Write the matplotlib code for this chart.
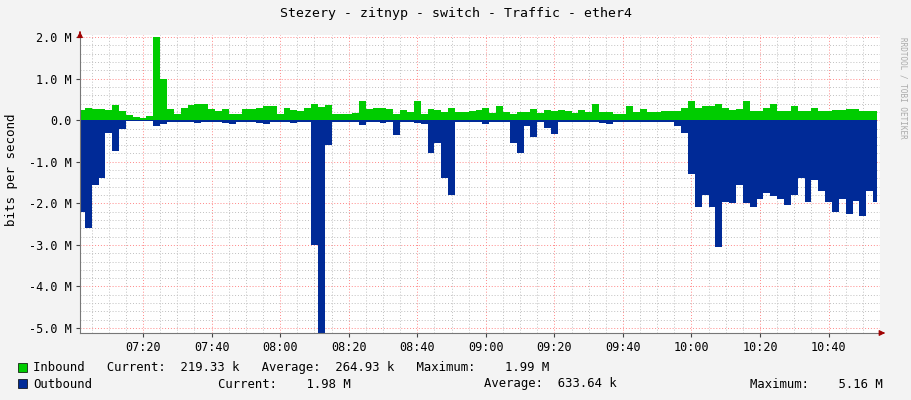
import numpy as np
import matplotlib.pyplot as plt

# minutes since 07:00, one sample every 2 minutes
minutes = list(range(2, 236, 2))

inbound = [0.24, 0.3, 0.28, 0.26, 0.25, 0.36, 0.22, 0.12, 0.08, 0.05, 0.1, 2.0, 1.0,
           0.28, 0.15, 0.3, 0.36, 0.38, 0.4, 0.27, 0.22, 0.28, 0.15, 0.15, 0.28, 0.26,
           0.3, 0.35, 0.33, 0.15, 0.3, 0.25, 0.22, 0.3, 0.4, 0.32, 0.37, 0.15, 0.15,
           0.15, 0.18, 0.45, 0.28, 0.3, 0.3, 0.28, 0.15, 0.25, 0.2, 0.45, 0.15, 0.28,
           0.25, 0.2, 0.3, 0.2, 0.2, 0.22, 0.25,
           0.3, 0.18, 0.35, 0.2, 0.15, 0.2, 0.2, 0.28, 0.18, 0.25, 0.22, 0.25, 0.22,
           0.18, 0.25, 0.2, 0.38, 0.2, 0.2, 0.15, 0.15, 0.35, 0.2, 0.28, 0.2, 0.2,
           0.22, 0.22, 0.22, 0.3, 0.47, 0.3, 0.35, 0.35, 0.38, 0.3, 0.25, 0.28, 0.47,
           0.22, 0.22, 0.3, 0.4, 0.22, 0.22, 0.35, 0.22, 0.22, 0.3, 0.22, 0.22, 0.25,
           0.25, 0.28, 0.28, 0.22, 0.22, 0.22]

outbound = [2.2, 2.6, 1.55, 1.4, 0.3, 0.75, 0.2, 0.03, 0.02, 0.02, 0.03, 0.15, 0.08,
            0.05, 0.04, 0.05, 0.05, 0.06, 0.05, 0.05, 0.05, 0.06, 0.1, 0.04, 0.04, 0.05,
            0.07, 0.08, 0.05, 0.04, 0.05, 0.07, 0.04, 0.04, 3.0, 5.2, 0.6, 0.05, 0.05,
            0.05, 0.05, 0.12, 0.05, 0.05, 0.06, 0.05, 0.35, 0.05, 0.05, 0.06, 0.08, 0.8,
            0.55, 1.4, 1.8, 0.05, 0.05, 0.04, 0.05,
            0.08, 0.05, 0.05, 0.05, 0.56, 0.8, 0.15, 0.4, 0.05, 0.18, 0.32, 0.05, 0.05,
            0.05, 0.05, 0.05, 0.05, 0.06, 0.08, 0.05, 0.05, 0.05, 0.05, 0.05, 0.05, 0.05,
            0.05, 0.05, 0.15, 0.3, 1.3, 2.1, 1.8, 2.1, 3.05, 1.97, 2.0, 1.55, 2.0, 2.09,
            1.9, 1.75, 1.83, 1.9, 2.05, 1.8, 1.4, 1.97, 1.45, 1.7, 1.98, 2.2, 1.9, 2.25,
            1.95, 2.3, 1.7, 1.98]

tick_minutes = [20, 40, 60, 80, 100, 120, 140, 160, 180, 200, 220]
tick_labels = ['07:20', '07:40', '08:00', '08:20', '08:40', '09:00', '09:20',
               '09:40', '10:00', '10:20', '10:40']
y_ticks = [2, 1, 0, -1, -2, -3, -4, -5]
y_labels = ['2.0 M', '1.0 M', '0.0', '-1.0 M', '-2.0 M', '-3.0 M', '-4.0 M', '-5.0 M']

plt.rcParams['font.family'] = ['DejaVu Sans Mono']
plt.rcParams['font.size'] = 8.5

fig = plt.figure(figsize=(9.11, 4.0), dpi=100, facecolor='#f3f3f3')
ax = fig.add_axes([80 / 911, 67 / 400, 800 / 911, 298 / 400])
ax.set_facecolor('white')

x = np.array(minutes)
ax.fill_between(x, 0, inbound, step='mid', color='#00cc00', linewidth=0)
ax.fill_between(x, 0, -np.array(outbound), step='mid', color='#002a97', linewidth=0)

ax.set_xlim(1.6, 235)
ax.set_ylim(-5.12, 2.05)

# grid like rrdtool
for m in range(5, 235, 5):
    col = '#ff8888' if m % 20 == 0 else '#c0c0c0'
    ax.axvline(m, color=col, lw=0.7, ls=(0, (1, 2)), zorder=0)
for v in np.arange(-5.0, 2.01, 0.2):
    major = abs(v - round(v)) < 1e-6
    ax.axhline(v, color='#ff8888' if major else '#c0c0c0', lw=0.7, ls=(0, (1, 2)), zorder=0)

ax.set_xticks(tick_minutes)
ax.set_xticklabels(tick_labels)
ax.set_yticks(y_ticks)
ax.set_yticklabels(y_labels)
ax.tick_params(length=3, colors='#444444', labelcolor='black', pad=3)
for s in ['top', 'right']:
    ax.spines[s].set_visible(False)
for s in ['left', 'bottom']:
    ax.spines[s].set_color('#777777')
ax.annotate('', xy=(236.5, -5.12), xytext=(235, -5.12), annotation_clip=False,
            arrowprops=dict(arrowstyle='-|>', color='#a00000', lw=0.8))
ax.annotate('', xy=(1.6, 2.2), xytext=(1.6, 2.05), annotation_clip=False,
            arrowprops=dict(arrowstyle='-|>', color='#a00000', lw=0.8))

fig.text(12 / 911, 0.575, 'bits per second', rotation=90, ha='center', va='center',
         fontsize=9)

fig.text(0.5, 0.965, 'Stezery - zitnyp - switch - Traffic - ether4', ha='center',
         va='center', fontsize=9.5)
fig.text(0.991, 0.78, 'RRDTOOL / TOBI OETIKER', rotation=270, ha='center', va='center',
         fontsize=5.5, color='#aaaaaa')

fig.patches.append(plt.Rectangle((18 / 911, 28 / 400), 9 / 911, 9 / 400, facecolor='#00cc00',
                                 edgecolor='black', lw=0.5, transform=fig.transFigure))
fig.patches.append(plt.Rectangle((18 / 911, 12 / 400), 9 / 911, 9 / 400, facecolor='#002a97',
                                 edgecolor='black', lw=0.5, transform=fig.transFigure))
fig.text(33 / 911, 32 / 400, 'Inbound   Current:  219.33 k   Average:  264.93 k   Maximum:    1.99 M',
         va='center', fontsize=8.8)
fig.text(33 / 911, 16 / 400, 'Outbound', va='center', fontsize=8.8)
fig.text(218 / 911, 16 / 400, 'Current:    1.98 M', va='center', fontsize=8.8)
fig.text(484 / 911, 16 / 400, 'Average:  633.64 k', va='center', fontsize=8.8)
fig.text(750 / 911, 16 / 400, 'Maximum:    5.16 M', va='center', fontsize=8.8)

fig.savefig('out.png', dpi=100, facecolor=fig.get_facecolor())
